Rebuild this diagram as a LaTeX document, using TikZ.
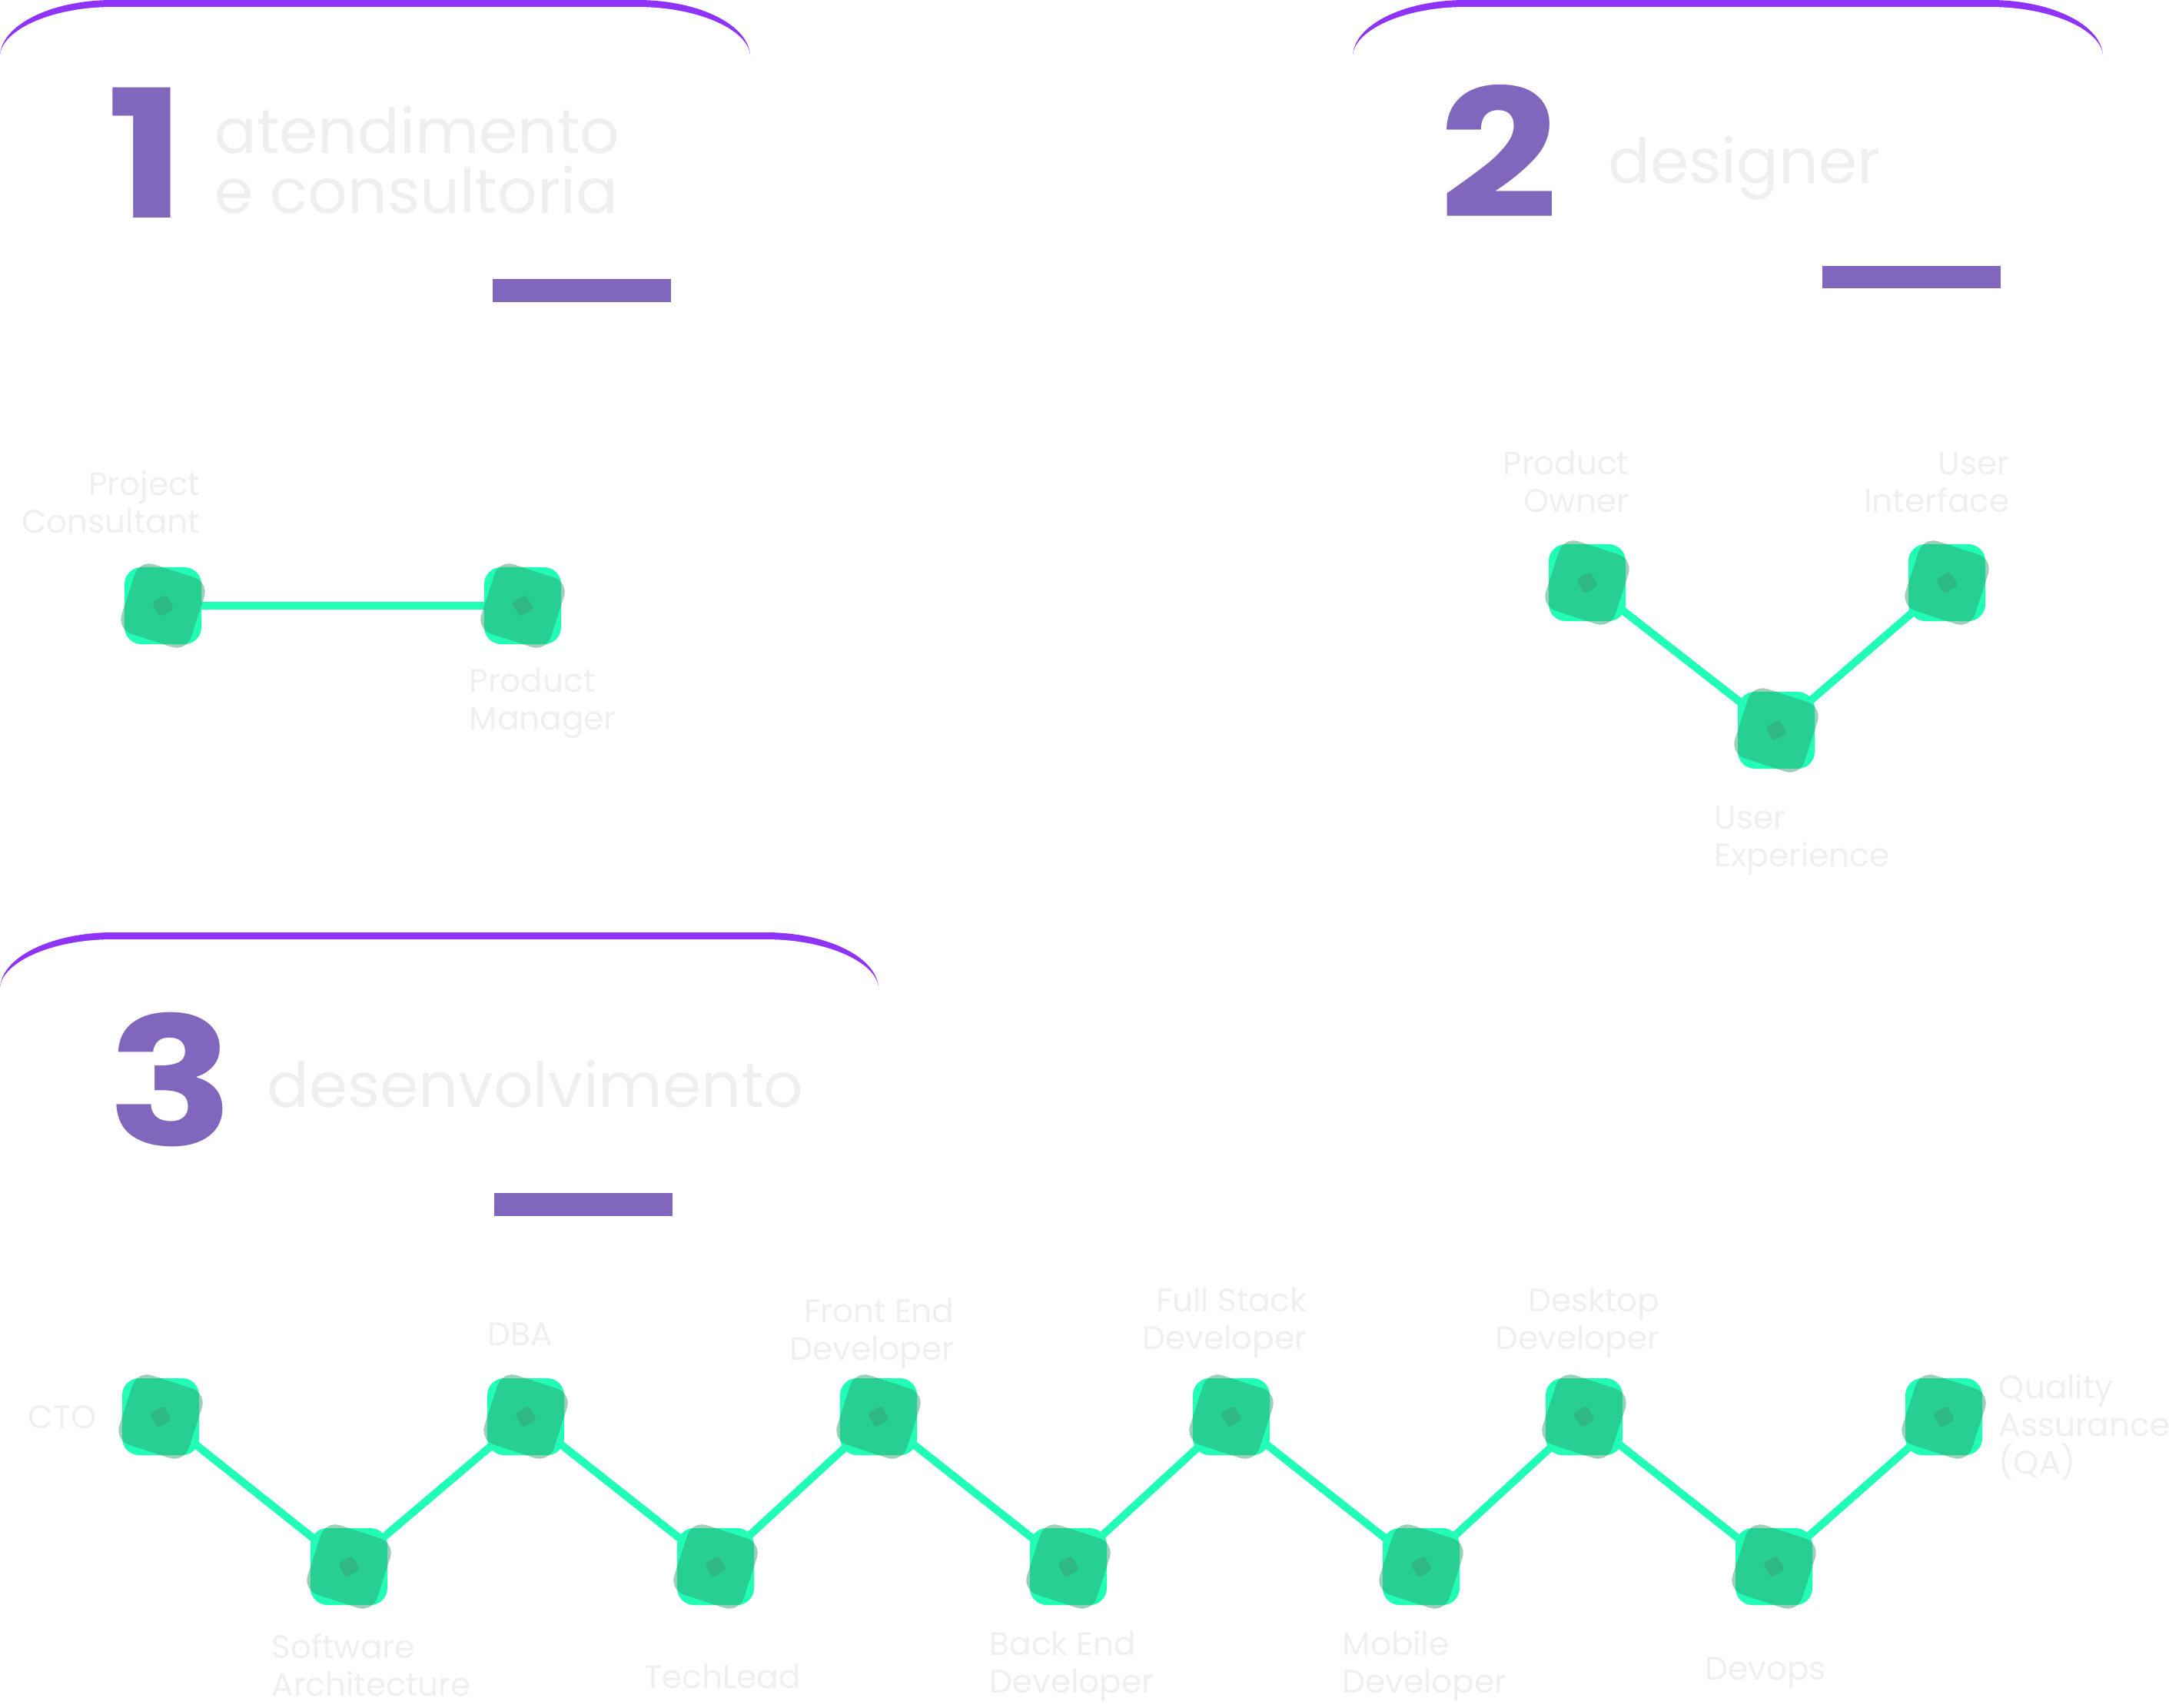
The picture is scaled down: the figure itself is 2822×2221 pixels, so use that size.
\documentclass[tikz,border=0pt]{standalone}
\usepackage{fontspec}
\setmainfont{Poppins}
\newfontfamily\numfont[FakeStretch=1.17]{Poppins}
\usetikzlibrary{backgrounds}
\definecolor{arcpurple}{HTML}{8F33F6}
\definecolor{numpurple}{HTML}{8066BC}
\definecolor{softgray}{HTML}{EFEFEF}
\definecolor{neongreen}{HTML}{20FFB5}
\definecolor{shadegreen}{HTML}{309C70}
\definecolor{dotgreen}{HTML}{2DB886}

\begin{document}
\begin{tikzpicture}[
    x=0.01cm, y=-0.01cm,
    skill/.style={rectangle, rounded corners=0.22cm, fill=neongreen, minimum size=1cm, inner sep=0pt},
    skillshade/.style={rectangle, rounded corners=0.2cm, fill=shadegreen, fill opacity=0.48, minimum size=0.95cm, inner sep=0pt, rotate=-18},
    skilldot/.style={rectangle, rounded corners=0.04cm, fill=dotgreen, minimum size=0.21cm, inner sep=0pt, rotate=32},
    link/.style={draw=neongreen, line width=0.1cm},
    role/.style={text=softgray, inner sep=0pt, font=\fontsize{12}{13.9}\selectfont},
    heading/.style={text=softgray, inner sep=0pt, align=left, font=\fontsize{23}{22}\selectfont},
    bignum/.style={text=numpurple, inner sep=0pt, font=\fontsize{66}{66}\numfont\bfseries},
    bar/.style={fill=numpurple}
]
\useasboundingbox (0,0) rectangle (2822,2221);

% card tops
\foreach \x/\w/\y in {0/976/0, 1760/976/0, 0/1143/1213} {
    \begin{scope}
        \clip (\x-5,\y-5) rectangle (\x+\w+5,\y+74);
        \fill[arcpurple] (\x,\y+160) -- (\x,\y+74) .. controls (\x,\y+33) and (\x+66,\y) .. (\x+147,\y)
            -- (\x+\w-147,\y) .. controls (\x+\w-66,\y) and (\x+\w,\y+33) .. (\x+\w,\y+74) -- (\x+\w,\y+160) -- cycle;
        \fill[white] (\x,\y+170) -- (\x,\y+74) .. controls (\x,\y+40) and (\x+66,\y+9) .. (\x+147,\y+9)
            -- (\x+\w-147,\y+9) .. controls (\x+\w-66,\y+9) and (\x+\w,\y+40) .. (\x+\w,\y+74) -- (\x+\w,\y+170) -- cycle;
    \end{scope}
}

% headings
\node[bignum, anchor=base west] (num1) at (139,283) {1};
\node[heading, anchor=base west] (title1) at (279,277) {atendimento\\e consultoria};
\fill[bar] (641,363) rectangle (873,393);

\node[bignum, anchor=base west] (num2) at (1872,283) {2};
\node[heading, anchor=base west] (title2) at (2092,238) {designer};
\fill[bar] (2371,346) rectangle (2603,375);

\node[bignum, anchor=base west] (num3) at (140,1490) {3};
\node[heading, anchor=base west] (title3) at (347,1440) {desenvolvimento};
\fill[bar] (643,1552) rectangle (875,1582);

% skill nodes
\foreach \n/\x/\y in {consultant/212/788, manager/680/788,
        owner/2065/758, ux/2311/950, ui/2533/758,
        cto/209/1843, swarch/454/2038, dba/684/1843, techlead/931/2038,
        frontend/1143/1843, backend/1390/2038, fullstack/1602/1843,
        mobile/1849/2038, desktop/2061/1843, devops/2308/2038, qa/2529/1843} {
    \node[skill] (\n) at (\x,\y) {};
    \node[skillshade] (\n-shade) at (\n) {};
    \node[skilldot] (\n-dot) at (\n) {};
}

\begin{scope}[on background layer]
    \draw[link] (consultant.center) -- (manager.center);
    \draw[link] (owner.center) -- (ux.center) -- (ui.center);
    \draw[link] (cto.center) -- (swarch.center) -- (dba.center) -- (techlead.center)
        -- (frontend.center) -- (backend.center) -- (fullstack.center) -- (mobile.center)
        -- (desktop.center) -- (devops.center) -- (qa.center);
\end{scope}

% labels
\node[role, align=right, anchor=base east] (consultant-txt) at (261,693) {Project\\Consultant};
\node[role, align=left, anchor=base west] (manager-txt) at (610,949) {Product\\Manager};

\node[role, align=right, anchor=base east] (owner-txt) at (2120,666) {Product\\Owner};
\node[role, align=right, anchor=base east] (ui-txt) at (2615,666) {User\\Interface};
\node[role, align=left, anchor=base west] (ux-txt) at (2230,1127) {User\\Experience};

\node[role, anchor=base east] (cto-txt) at (126,1858) {CTO};
\node[role, align=left, anchor=base west] (swarch-txt) at (353,2206) {Software\\Architecture};
\node[role, anchor=base] (dba-txt) at (677,1750) {DBA};
\node[role, anchor=base] (techlead-txt) at (940,2196) {TechLead};
\node[role, align=right, anchor=base east] (frontend-txt) at (1242,1769) {Front End\\Developer};
\node[role, align=left, anchor=base west] (backend-txt) at (1287,2202) {Back End\\Developer};
\node[role, align=right, anchor=base east] (fullstack-txt) at (1701,1755) {Full Stack\\Developer};
\node[role, align=left, anchor=base west] (mobile-txt) at (1746,2202) {Mobile\\Developer};
\node[role, align=right, anchor=base east] (desktop-txt) at (2160,1755) {Desktop\\Developer};
\node[role, anchor=base] (devops-txt) at (2297,2185) {Devops};
\node[role, align=left, anchor=base west] (qa-txt) at (2600,1917) {Quality\\Assurance\\(QA)};

\end{tikzpicture}
\end{document}
